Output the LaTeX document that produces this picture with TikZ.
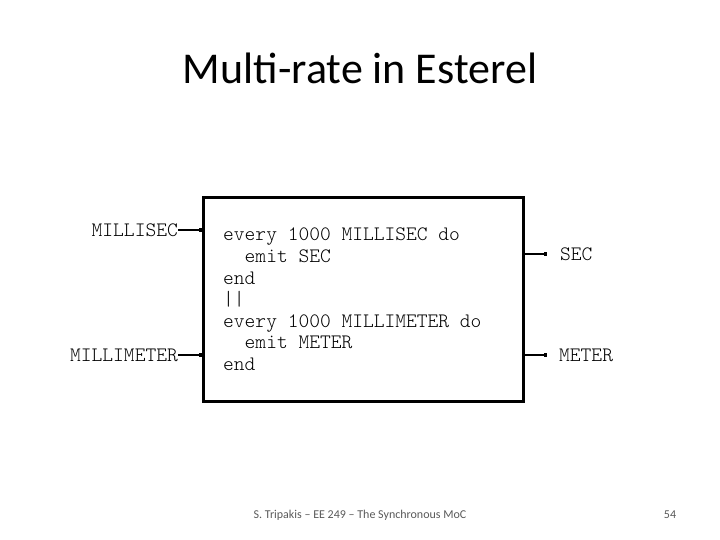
\documentclass[tikz,border=0pt]{standalone}
\usepackage{fontspec}
\setmainfont{Carlito}
\newfontfamily\codefont{Latin Modern Mono Light}
\usetikzlibrary{arrows.meta}
\tikzset{
  sig/.style={font=\codefont\fontsize{20.5}{21.6}\selectfont, inner sep=0pt},
  wire/.style={line width=1.6pt, -{Square[length=2.6pt,width=3.4pt]}},
  block/.style={draw, line width=3pt, minimum width=320pt, minimum height=203pt, inner sep=0pt},
}
\begin{document}
\begin{tikzpicture}[x=1pt,y=-1pt]
\useasboundingbox (0,0) rectangle (720,540);
\node[font=\fontsize{44}{52}\selectfont] (title) at (360,68) {Multi-rate in Esterel};
\node[block] (box) at (363,299.5) {};
\node[sig, align=left, anchor=north west] (code) at (223,228) {every 1000 MILLISEC do\\
\ \ emit SEC\\
end\\
||\\
every 1000 MILLIMETER do\\
\ \ emit METER\\
end};
\node[sig, anchor=east] (msec) at (178,230) {MILLISEC};
\node[sig, anchor=east] (mmeter) at (178,355) {MILLIMETER};
\node[sig, anchor=west] (sec) at (560,254) {SEC};
\node[sig, anchor=west] (meter) at (559,355) {METER};
\coordinate (secend) at (547,254);
\coordinate (meterend) at (547,355);
\draw[wire] (msec.east) -- (box.west |- msec.east);
\draw[wire] (mmeter.east) -- (box.west |- mmeter.east);
\draw[wire] (box.east |- secend) -- (secend);
\draw[wire] (box.east |- meterend) -- (meterend);
\node[font=\fontsize{12}{14}\selectfont, text=black!65] (foot) at (360,515) {S. Tripakis -- EE 249 -- The Synchronous MoC};
\node[font=\fontsize{12}{14}\selectfont, text=black!65] (page) at (670,515) {54};
\end{tikzpicture}
\end{document}
